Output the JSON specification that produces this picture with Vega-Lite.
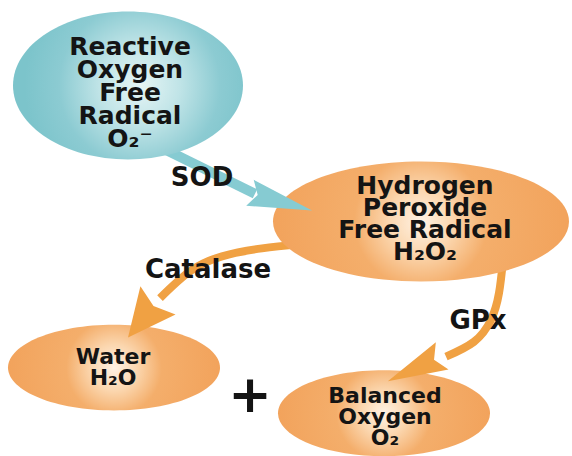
{
  "$schema": "https://vega.github.io/schema/vega-lite/v6.json",
  "width": 572,
  "height": 456,
  "padding": 0,
  "autosize": {"type": "fit", "contains": "padding"},
  "background": "#ffffff",
  "config": {
    "view": {"stroke": null},
    "text": {"font": "DejaVu Sans", "fontWeight": "bold", "color": "#141414"}
  },
  "datasets": {
    "tealShaft": [
      {"i": 0, "x": 160, "y": 148},
      {"i": 1, "x": 255, "y": 195}
    ],
    "orangeShafts": [
      {"arrow": "catalase", "i": 0, "x": 300, "y": 246},
      {"arrow": "catalase", "i": 1, "x": 262, "y": 250},
      {"arrow": "catalase", "i": 2, "x": 222, "y": 258},
      {"arrow": "catalase", "i": 3, "x": 190, "y": 273},
      {"arrow": "catalase", "i": 4, "x": 160, "y": 300},
      {"arrow": "gpx", "i": 0, "x": 503, "y": 262},
      {"arrow": "gpx", "i": 1, "x": 499, "y": 295},
      {"arrow": "gpx", "i": 2, "x": 491, "y": 322},
      {"arrow": "gpx", "i": 3, "x": 474, "y": 344},
      {"arrow": "gpx", "i": 4, "x": 446, "y": 359}
    ],
    "tealNode": [
      {"node": "ros", "x": 128, "y": 86}
    ],
    "bigNode": [
      {"node": "h2o2", "x": 421, "y": 223}
    ],
    "smallNodes": [
      {"node": "water", "x": 114, "y": 370},
      {"node": "o2", "x": 384, "y": 416}
    ],
    "tealHead": [{"arrow": "sod", "x": 281, "y": 203}],
    "catalaseHead": [{"arrow": "catalase", "x": 143, "y": 321}],
    "gpxHead": [{"arrow": "gpx", "x": 415, "y": 371}],
    "tealText": [{"label": "Reactive\nOxygen\nFree\nRadical\nO₂⁻", "x": 130, "y": 55}],
    "bigText": [{"label": "Hydrogen\nPeroxide\nFree Radical\nH₂O₂", "x": 425, "y": 195}],
    "smallText": [
      {"label": "Water\nH₂O", "x": 113, "y": 366},
      {"label": "Balanced\nOxygen\nO₂", "x": 385, "y": 406}
    ],
    "enzymes": [
      {"label": "SOD", "x": 202, "y": 187},
      {"label": "Catalase", "x": 208, "y": 280},
      {"label": "GPx", "x": 478, "y": 331}
    ],
    "plus": [{"label": "+", "x": 250, "y": 415}]
  },
  "encoding": {
    "x": {"field": "x", "type": "quantitative", "scale": {"domain": [0, 572], "nice": false, "zero": false}, "axis": null},
    "y": {"field": "y", "type": "quantitative", "scale": {"domain": [0, 456], "nice": false, "zero": false, "reverse": true}, "axis": null}
  },
  "layer": [
    {
      "data": {"name": "tealShaft"},
      "mark": {"type": "line", "color": "#86cbd2", "strokeWidth": 10, "strokeCap": "butt"},
      "encoding": {"order": {"field": "i", "type": "quantitative"}}
    },
    {
      "data": {"name": "orangeShafts"},
      "mark": {"type": "line", "color": "#f0a143", "strokeWidth": 8, "strokeCap": "butt", "interpolate": "natural"},
      "encoding": {
        "detail": {"field": "arrow", "type": "nominal"},
        "order": {"field": "i", "type": "quantitative"}
      }
    },
    {
      "data": {"name": "tealNode"},
      "mark": {
        "type": "point",
        "filled": true,
        "opacity": 1,
        "strokeWidth": 0,
        "size": 52900,
        "shape": "M-1,0A1,0.643,0,1,1,1,0A1,0.643,0,1,1,-1,0Z",
        "fill": {
          "gradient": "radial",
          "x1": 0.55, "y1": 0.5, "r1": 0,
          "x2": 0.55, "y2": 0.5, "r2": 0.5,
          "stops": [
            {"offset": 0, "color": "#e6f5f5"},
            {"offset": 0.35, "color": "#c0e4e7"},
            {"offset": 0.7, "color": "#8ccbd2"},
            {"offset": 1, "color": "#7cc4cb"}
          ]
        }
      }
    },
    {
      "data": {"name": "bigNode"},
      "mark": {
        "type": "point",
        "filled": true,
        "opacity": 1,
        "strokeWidth": 0,
        "size": 87616,
        "shape": "M-1,0A1,0.405,0,1,1,1,0A1,0.405,0,1,1,-1,0Z",
        "fill": {
          "gradient": "radial",
          "x1": 0.5, "y1": 0.5, "r1": 0,
          "x2": 0.5, "y2": 0.5, "r2": 0.5,
          "stops": [
            {"offset": 0, "color": "#fff2e4"},
            {"offset": 0.22, "color": "#fbd6ae"},
            {"offset": 0.45, "color": "#f4ae6b"},
            {"offset": 1, "color": "#f2a35c"}
          ]
        }
      }
    },
    {
      "data": {"name": "smallNodes"},
      "mark": {
        "type": "point",
        "filled": true,
        "opacity": 1,
        "strokeWidth": 0,
        "size": 44944,
        "shape": "M-1,0A1,0.405,0,1,1,1,0A1,0.405,0,1,1,-1,0Z",
        "fill": {
          "gradient": "radial",
          "x1": 0.5, "y1": 0.5, "r1": 0,
          "x2": 0.5, "y2": 0.5, "r2": 0.5,
          "stops": [
            {"offset": 0, "color": "#fff2e4"},
            {"offset": 0.22, "color": "#fbd6ae"},
            {"offset": 0.45, "color": "#f4ae6b"},
            {"offset": 1, "color": "#f2a35c"}
          ]
        }
      }
    },
    {
      "data": {"name": "tealHead"},
      "mark": {"type": "point", "filled": true, "opacity": 1, "strokeWidth": 0, "color": "#86cbd2", "size": 4173, "angle": 16, "shape": "M1,0L-1,-0.42L-0.75,0L-1,0.42Z"}
    },
    {
      "data": {"name": "catalaseHead"},
      "mark": {"type": "point", "filled": true, "opacity": 1, "strokeWidth": 0, "color": "#f0a143", "size": 2266, "angle": 129, "shape": "M1,0L-1,-0.95L-0.7,0L-1,0.95Z"}
    },
    {
      "data": {"name": "gpxHead"},
      "mark": {"type": "point", "filled": true, "opacity": 1, "strokeWidth": 0, "color": "#f0a143", "size": 3600, "angle": 155, "shape": "M1,0L-1,-0.5L-0.7,0L-1,0.5Z"}
    },
    {
      "data": {"name": "tealText"},
      "mark": {"type": "text", "fontSize": 25, "lineHeight": 23, "lineBreak": "\n", "align": "center", "baseline": "alphabetic"},
      "encoding": {"text": {"field": "label"}}
    },
    {
      "data": {"name": "bigText"},
      "mark": {"type": "text", "fontSize": 25, "lineHeight": 22, "lineBreak": "\n", "align": "center", "baseline": "alphabetic"},
      "encoding": {"text": {"field": "label"}}
    },
    {
      "data": {"name": "smallText"},
      "mark": {"type": "text", "fontSize": 22, "lineHeight": 21, "lineBreak": "\n", "align": "center", "baseline": "alphabetic"},
      "encoding": {"text": {"field": "label"}}
    },
    {
      "data": {"name": "enzymes"},
      "mark": {"type": "text", "fontSize": 26, "align": "center", "baseline": "alphabetic"},
      "encoding": {"text": {"field": "label"}}
    },
    {
      "data": {"name": "plus"},
      "mark": {"type": "text", "fontSize": 52, "align": "center", "baseline": "alphabetic"},
      "encoding": {"text": {"field": "label"}}
    }
  ]
}
